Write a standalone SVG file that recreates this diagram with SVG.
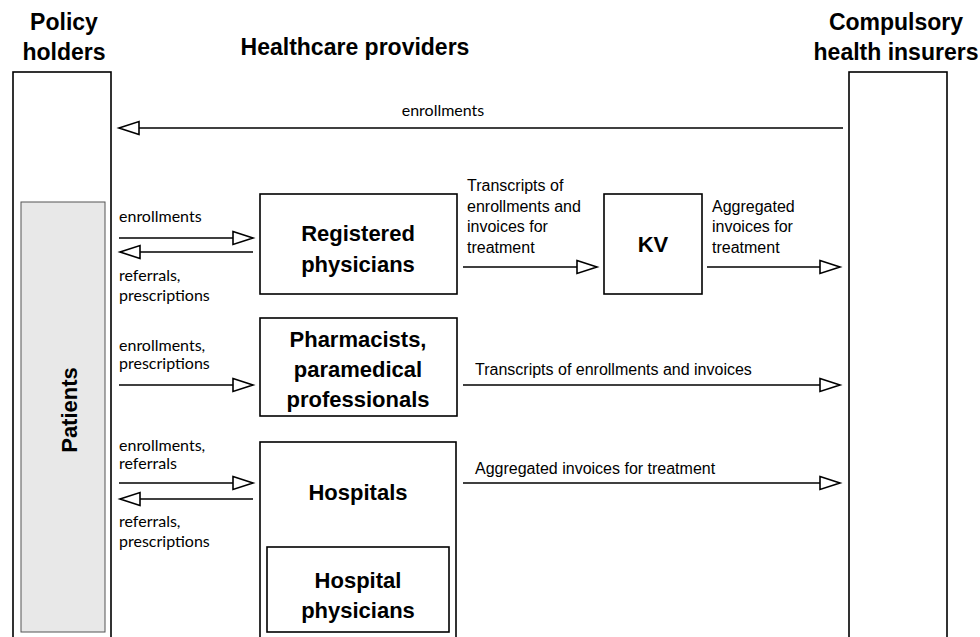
<svg xmlns="http://www.w3.org/2000/svg" width="980" height="637" viewBox="0 0 980 637">
<defs>
<marker id="ah" markerWidth="24" markerHeight="16" refX="21" refY="8" orient="auto" markerUnits="userSpaceOnUse">
<path d="M1,1.5 L21,8 L1,14.5 Z" fill="#fff" stroke="#000" stroke-width="1.6" stroke-linejoin="miter"/>
</marker>
<style>
.box{fill:#fff;stroke:#000;stroke-width:1.6}
.pat{fill:#e8e8e8;stroke:#555;stroke-width:1}
.t{font-family:"Liberation Sans",Arial,sans-serif;font-weight:bold;font-size:22px;fill:#000;text-anchor:middle}
.h{font-size:23px}
.l{font-family:Lato,"Liberation Sans",sans-serif;font-size:16px;fill:#000}
.r{font-family:"Liberation Sans",Arial,sans-serif;font-size:16px;fill:#000}
.c{stroke:#000;stroke-width:1.6;fill:none;marker-end:url(#ah)}
</style>
</defs>
<rect width="980" height="637" fill="#fff"/>
<g id="policy-holders">
<text class="t h" x="64" y="30">Policy</text>
<text class="t h" x="64" y="60">holders</text>
<rect class="box" x="13" y="72" width="98" height="580"/>
</g>
<g id="patients">
<rect class="pat" x="21" y="202" width="84" height="430"/>
<text class="t" transform="translate(77,410) rotate(-90)" x="0" y="0">Patients</text>
</g>
<g id="healthcare-providers">
<text class="t h" x="355" y="55">Healthcare providers</text>
</g>
<g id="insurers">
<text class="t h" x="896" y="30">Compulsory</text>
<text class="t h" x="896" y="60">health insurers</text>
<rect class="box" x="849" y="72" width="98" height="580"/>
</g>
<g id="registered-physicians">
<rect class="box" x="260" y="194" width="197" height="100"/>
<text class="t" x="358" y="241">Registered</text>
<text class="t" x="358" y="272">physicians</text>
</g>
<g id="kv">
<rect class="box" x="604" y="194" width="98" height="100"/>
<text class="t" x="653" y="252">KV</text>
</g>
<g id="pharmacists">
<rect class="box" x="260" y="318" width="197" height="98"/>
<text class="t" x="358" y="347">Pharmacists,</text>
<text class="t" x="358" y="377">paramedical</text>
<text class="t" x="358" y="407">professionals</text>
</g>
<g id="hospitals">
<rect class="box" x="260" y="442" width="196" height="210"/>
<text class="t" x="358" y="500">Hospitals</text>
</g>
<g id="hospital-physicians">
<rect class="box" x="267" y="547" width="182" height="85"/>
<text class="t" x="358" y="588">Hospital</text>
<text class="t" x="358" y="618">physicians</text>
</g>
<g id="connectors">
<line class="c" x1="843" y1="128" x2="119" y2="128"/>
<line class="c" x1="119" y1="238" x2="253" y2="238"/>
<line class="c" x1="253" y1="252" x2="120" y2="252"/>
<line class="c" x1="463" y1="267" x2="597" y2="267"/>
<line class="c" x1="707" y1="267" x2="840" y2="267"/>
<line class="c" x1="119" y1="385" x2="253" y2="385"/>
<line class="c" x1="463" y1="385" x2="840" y2="385"/>
<line class="c" x1="119" y1="483" x2="253" y2="483"/>
<line class="c" x1="253" y1="499" x2="120" y2="499"/>
<line class="c" x1="463" y1="483" x2="840" y2="483"/>
</g>
<g id="labels">
<text class="l" x="443" y="116" text-anchor="middle">enrollments</text>
<text class="l" x="119" y="222">enrollments</text>
<text class="l" x="119" y="281">referrals,</text>
<text class="l" x="119" y="301">prescriptions</text>
<text class="r" x="467" y="191">Transcripts of</text>
<text class="r" x="467" y="212">enrollments and</text>
<text class="r" x="467" y="232">invoices for</text>
<text class="r" x="467" y="253">treatment</text>
<text class="r" x="712" y="212">Aggregated</text>
<text class="r" x="712" y="232">invoices for</text>
<text class="r" x="712" y="253">treatment</text>
<text class="l" x="119" y="351">enrollments,</text>
<text class="l" x="119" y="369">prescriptions</text>
<text class="r" x="475" y="375">Transcripts of enrollments and invoices</text>
<text class="l" x="119" y="451">enrollments,</text>
<text class="l" x="119" y="469">referrals</text>
<text class="l" x="119" y="527">referrals,</text>
<text class="l" x="119" y="547">prescriptions</text>
<text class="r" x="475" y="474">Aggregated invoices for treatment</text>
</g>
</svg>
